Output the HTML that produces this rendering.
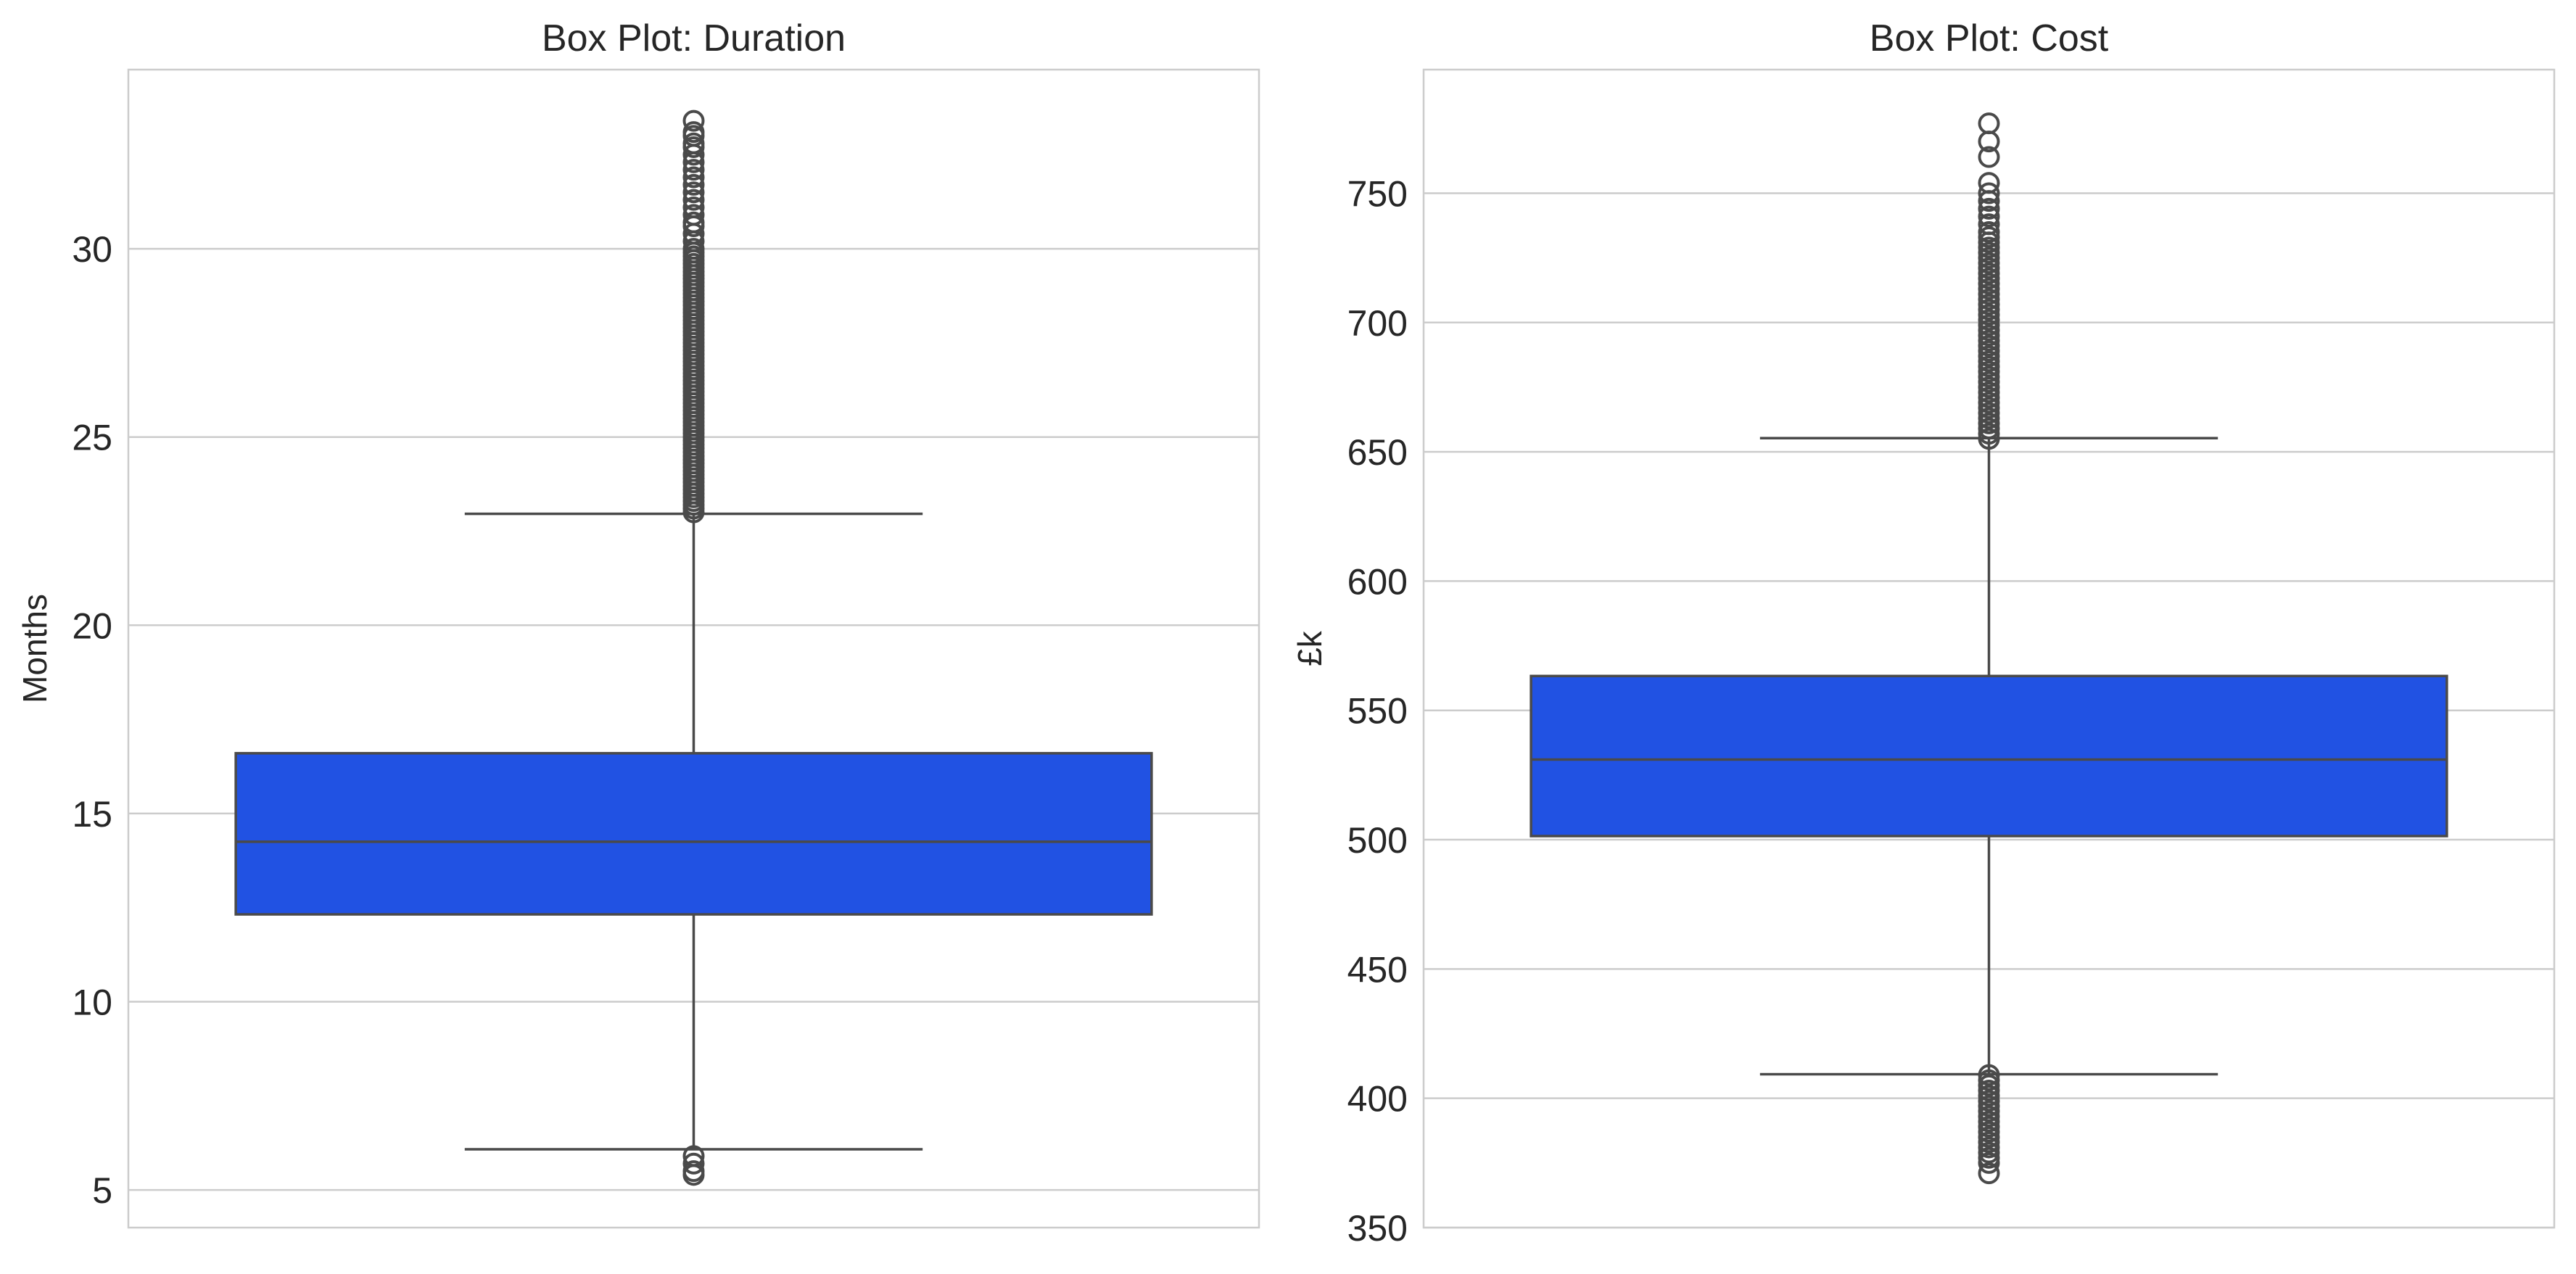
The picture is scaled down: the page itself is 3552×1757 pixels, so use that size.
<!DOCTYPE html>
<html><head><meta charset="utf-8"><style>
body{margin:0;background:#fff}
svg text{font-family:"Liberation Sans",sans-serif;fill:#262626}
</style></head><body>
<svg id="c" width="3552" height="1752" xmlns="http://www.w3.org/2000/svg"></svg>
<script>
// Duration panel data
const durStats = [6.08, 12.32, 14.25, 16.6, 22.96]; // lowWhisker, q1, median, q3, highWhisker
const durOutliers = [23.0,23.1,23.2,23.3,23.4,23.5,23.6,23.7,23.8,23.9,24.0,24.1,24.2,24.3,24.4,24.5,24.6,24.7,24.8,24.9,25.0,25.1,25.2,25.3,25.4,25.5,25.6,25.7,25.8,25.9,26.0,26.1,26.2,26.3,26.4,26.5,26.6,26.7,26.8,26.9,27.0,27.1,27.2,27.3,27.4,27.5,27.6,27.7,27.8,27.9,28.0,28.1,28.2,28.3,28.4,28.5,28.6,28.7,28.8,28.9,29.0,29.1,29.2,29.3,29.4,29.5,29.6,29.7,29.8,29.9,30.0,30.2,30.4,30.6,30.7,30.9,31.1,31.3,31.5,31.7,31.9,32.1,32.3,32.5,32.7,32.8,33.0,33.1,33.4,5.9,5.7,5.5,5.4];
const durTicks = [5,10,15,20,25,30];
// Cost panel data
const costStats = [409.3, 501.4, 531, 563.3, 655.3];
const costOutliers = [655,657,659,661,663,665,667,669,671,673,675,677,679,681,683,685,687,689,691,693,695,697,699,701,703,705,707,709,711,713,715,717,719,721,723,725,727,729,731,733,735,738,741,744,747,750,754,764,770,777,
  409,407,405,403,401,399,397,395,393,391,389,387,385,383,381,379,377,375,371];
const costTicks = [350,400,450,500,550,600,650,700,750];

const svg=document.getElementById('c');
const NS='http://www.w3.org/2000/svg';
function mk(tag,attrs,parent){const e=document.createElementNS(NS,tag);for(const k in attrs)e.setAttribute(k,attrs[k]);(parent||svg).appendChild(e);return e;}

function panel(o){
  const g=mk('g',{});
  
  
  const {x0,x1,y0,y1,vmin,vmax}=o;
  const Y=v=>y1-(v-vmin)/(vmax-vmin)*(y1-y0);
  o.ticks.forEach(t=>{
    const l=mk('line',{x1:x0,x2:x1,y1:Y(t),y2:Y(t),stroke:'#cccccc','stroke-width':2.5},g);
    
    
    const tx=mk('text',{x:x0-22,y:Y(t)+18,'text-anchor':'end','font-size':50},g);
    tx.textContent=t;
    
    
  });
  const fr=mk('rect',{x:x0,y:y0,width:x1-x0,height:y1-y0,fill:'none',stroke:'#cccccc','stroke-width':2.5},g);
  
  
  const cx=(x0+x1)/2, bw=(x1-x0)*0.81, cw=bw/2;
  const s=o.stats;
  const w1=mk('line',{x1:cx,x2:cx,y1:Y(s[0]),y2:Y(s[1]),stroke:'#4a4a4a','stroke-width':3.5},g);
  
  
  const w2=mk('line',{x1:cx,x2:cx,y1:Y(s[3]),y2:Y(s[4]),stroke:'#4a4a4a','stroke-width':3.5},g);
  
  
  [s[0],s[4]].forEach(v=>{
    const c=mk('line',{x1:cx-cw/2,x2:cx+cw/2,y1:Y(v),y2:Y(v),stroke:'#4a4a4a','stroke-width':3.5},g);
    
    
  });
  const b=mk('rect',{x:cx-bw/2,y:Y(s[3]),width:bw,height:Y(s[1])-Y(s[3]),fill:'#2152e3',stroke:'#4a4a4a','stroke-width':3.5},g);
  
  
  const m=mk('line',{x1:cx-bw/2,x2:cx+bw/2,y1:Y(s[2]),y2:Y(s[2]),stroke:'#4a4a4a','stroke-width':3.5},g);
  
  
  o.outliers.forEach(v=>{
    const c=mk('circle',{cx:cx,cy:Y(v),r:13,fill:'none',stroke:'#4a4a4a','stroke-width':4},g);
    
    
  });
  const t=mk('text',{x:cx,y:70,'text-anchor':'middle','font-size':52},g);
  t.textContent=o.title;
  
  
  const yl=mk('text',{x:0,y:0,'text-anchor':'middle','font-size':46,transform:`translate(${o.ylx},${(y0+y1)/2}) rotate(-90)`},g);
  yl.textContent=o.ylabel;
  
  
}
panel({name:'duration-panel',x0:177,x1:1736,y0:96,y1:1693,vmin:4.0,vmax:34.76,ticks:durTicks,stats:durStats,outliers:durOutliers,title:'Box Plot: Duration',ylabel:'Months',ylx:64});
panel({name:'cost-panel',x0:1963,x1:3522,y0:96,y1:1693,vmin:350,vmax:797.8,ticks:costTicks,stats:costStats,outliers:costOutliers,title:'Box Plot: Cost',ylabel:'£k',ylx:1822});
</script>
</body></html>
